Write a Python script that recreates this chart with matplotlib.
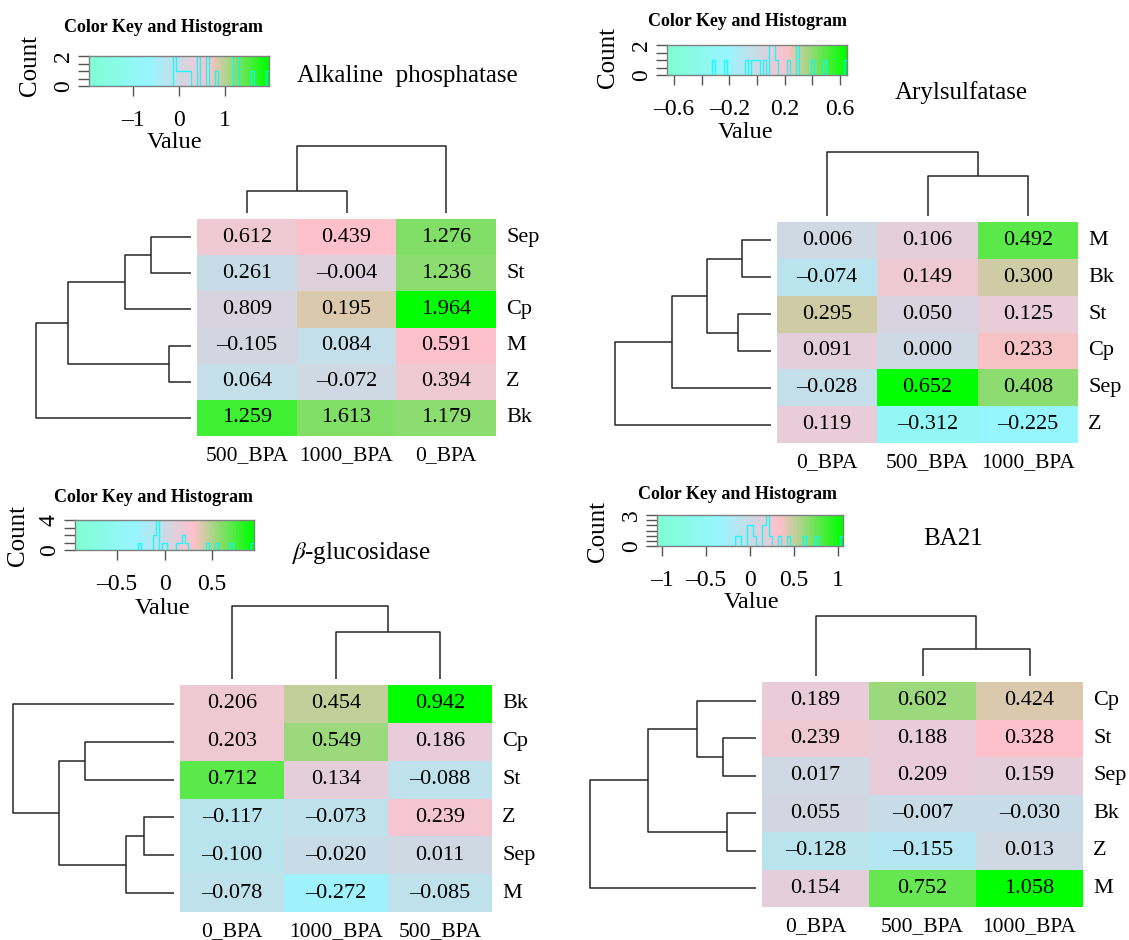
import numpy as np
import matplotlib
matplotlib.use("Agg")
import matplotlib.pyplot as plt
from matplotlib.colors import LinearSegmentedColormap, ListedColormap, BoundaryNorm

plt.rcParams['font.family'] = ['Liberation Serif', 'DejaVu Serif']
plt.rcParams['mathtext.fontset'] = 'stix'

# ---------------- data ----------------
n_colors = 60
ramp_colors = ["aquamarine", "#98F5FF", "pink", "#00FF00"]   # aquamarine, cadetblue1, pink, green

# Alkaline phosphatase
alk_rows = ["Sep", "St", "Cp", "M", "Z", "Bk"]
alk_cols = ["500_BPA", "1000_BPA", "0_BPA"]
alk_vals = np.array([[0.612, 0.439, 1.276],
                     [0.261, -0.004, 1.236],
                     [0.809, 0.195, 1.964],
                     [-0.105, 0.084, 0.591],
                     [0.064, -0.072, 0.394],
                     [1.259, 1.613, 1.179]])
alk_color_cols = [1, 0, 2]   # colours in the figure follow the 1000/500 columns swapped
alk_row_link = [(3, 4, 0.142), (0, 1, 0.258), (7, 2, 0.426), (8, 6, 0.794), (9, 5, 1.0)]
alk_col_link = [(0, 1, 0.328), (3, 2, 1.0)]

# Arylsulfatase
ary_rows = ["M", "Bk", "St", "Cp", "Sep", "Z"]
ary_cols = ["0_BPA", "500_BPA", "1000_BPA"]
ary_vals = np.array([[0.006, 0.106, 0.492],
                     [-0.074, 0.149, 0.300],
                     [0.295, 0.050, 0.125],
                     [0.091, 0.000, 0.233],
                     [-0.028, 0.652, 0.408],
                     [0.119, -0.312, -0.225]])
ary_row_link = [(0, 1, 0.185), (2, 3, 0.21), (6, 7, 0.408), (8, 4, 0.637), (9, 5, 1.0)]
ary_col_link = [(1, 2, 0.625), (0, 3, 1.0)]

# beta-glucosidase
glu_rows = ["Bk", "Cp", "St", "Z", "Sep", "M"]
glu_cols = ["0_BPA", "1000_BPA", "500_BPA"]
glu_vals = np.array([[0.206, 0.454, 0.942],
                     [0.203, 0.549, 0.186],
                     [0.712, 0.134, -0.088],
                     [-0.117, -0.073, 0.239],
                     [-0.100, -0.020, 0.011],
                     [-0.078, -0.272, -0.085]])
glu_row_link = [(3, 4, 0.186), (6, 5, 0.298), (1, 2, 0.553), (8, 7, 0.714), (0, 9, 1.0)]
glu_col_link = [(1, 2, 0.639), (0, 3, 1.0)]

# BA21
ba_rows = ["Cp", "St", "Sep", "Bk", "Z", "M"]
ba_cols = ["0_BPA", "500_BPA", "1000_BPA"]
ba_vals = np.array([[0.189, 0.602, 0.424],
                    [0.239, 0.188, 0.328],
                    [0.017, 0.209, 0.159],
                    [0.055, -0.007, -0.030],
                    [-0.128, -0.155, 0.013],
                    [0.154, 0.752, 1.058]])
ba_row_link = [(3, 4, 0.175), (1, 2, 0.199), (0, 7, 0.355), (8, 6, 0.651), (9, 5, 1.0)]
ba_col_link = [(1, 2, 0.45), (0, 3, 1.0)]

# ---------------- figure ----------------
W, H = 1129, 940
fig = plt.figure(figsize=(W / 100, H / 100), dpi=100)

ramp = LinearSegmentedColormap.from_list("key", ramp_colors)
cmap = ListedColormap(ramp(np.linspace(0, 1, n_colors)))
line_col = "#262626"


def px_axes(x0, y0, x1, y1):
    ax = fig.add_axes([x0 / W, 1 - y1 / H, (x1 - x0) / W, (y1 - y0) / H])
    return ax


def px_text(x, y, s, **kw):
    fig.text(x / W, 1 - y / H, s, **kw)


def fmt(v):
    return f"{v:.3f}".replace("-", "\u2013")


def r_hist(v, breaks):
    # R hist(): right-closed bins, lowest included
    idx = np.searchsorted(breaks, v, side="left") - 1
    idx = np.clip(idx, 0, len(breaks) - 2)
    return np.bincount(idx, minlength=len(breaks) - 1)


def dendro(ax, link, n, horizontal):
    pos = list(np.arange(n, dtype=float))
    hgt = [0.0] * n
    for a, b, h in link:
        xs = [pos[a], pos[a], pos[b], pos[b]]
        ys = [hgt[a], h, h, hgt[b]]
        if horizontal:
            ax.plot(ys, xs, color=line_col, lw=1.1, clip_on=False, solid_capstyle="butt")
        else:
            ax.plot(xs, ys, color=line_col, lw=1.1, clip_on=False, solid_capstyle="butt")
        pos.append((pos[a] + pos[b]) / 2)
        hgt.append(h)
    ax.axis("off")


panels = [
    dict(vals=alk_vals, cvals=alk_vals[:, alk_color_cols], rows=alk_rows, cols=alk_cols,
         rlink=alk_row_link, clink=alk_col_link, title="Alkaline  phosphatase",
         ticks=[-1, 0, 1], shown=[-1, 0, 1],
         key=(89, 56, 269, 86), heat=(197, 219, 496, 436), rx0=36, cy0=146,
         title_xy=(297, 76), ckh_xy=(163, 28), count_xy=(30, 66), value_xy=(175, 142)),
    dict(vals=ary_vals, cvals=ary_vals, rows=ary_rows, cols=ary_cols,
         rlink=ary_row_link, clink=ary_col_link, title="Arylsulfatase",
         ticks=[-0.6, -0.4, -0.2, 0, 0.2, 0.4, 0.6], shown=[-0.6, -0.2, 0.2, 0.6],
         key=(667, 45, 847, 75), heat=(777, 222, 1078, 443), rx0=615, cy0=152,
         title_xy=(895, 93), ckh_xy=(748, 22), count_xy=(608, 58), value_xy=(746, 132)),
    dict(vals=glu_vals, cvals=glu_vals, rows=glu_rows, cols=glu_cols,
         rlink=glu_row_link, clink=glu_col_link, title=r"$\beta$-glucosidase",
         ticks=[-0.5, 0, 0.5], shown=[-0.5, 0, 0.5],
         key=(75, 520, 254, 550), heat=(180, 685, 492, 912), rx0=13, cy0=606,
         title_xy=(291, 553), ckh_xy=(153, 497), count_xy=(18, 535), value_xy=(163, 608)),
    dict(vals=ba_vals, cvals=ba_vals, rows=ba_rows, cols=ba_cols,
         rlink=ba_row_link, clink=ba_col_link, title="BA21",
         ticks=[-1, -0.5, 0, 0.5, 1], shown=[-1, -0.5, 0, 0.5, 1],
         key=(657, 515, 843, 546), heat=(762, 682, 1083, 907), rx0=590, cy0=616,
         title_xy=(923, 539), ckh_xy=(738, 495), count_xy=(598, 532), value_xy=(752, 603)),
]

for p in panels:
    vals = p["vals"]
    nr, nc = vals.shape
    M = np.abs(vals).max()
    breaks = np.linspace(-M, M, n_colors + 1)
    norm = BoundaryNorm(breaks, n_colors)

    # heatmap
    hx0, hy0, hx1, hy1 = p["heat"]
    ax = px_axes(hx0, hy0, hx1, hy1)
    ax.pcolormesh(np.arange(nc + 1) - 0.5, np.arange(nr + 1) - 0.5, p["cvals"],
                  cmap=cmap, norm=norm, edgecolors="none")
    ax.set_xlim(-0.5, nc - 0.5)
    ax.set_ylim(nr - 0.5, -0.5)
    ax.axis("off")
    for i in range(nr):
        for j in range(nc):
            ax.text(j, i, fmt(vals[i, j]), ha="center", va="center", fontsize=16)
        ax.annotate(p["rows"][i], xy=(1, i), xycoords=("axes fraction", "data"),
                    xytext=(10, 0), textcoords="offset pixels", ha="left", va="center",
                    fontsize=16)
    for j in range(nc):
        ax.annotate(p["cols"][j], xy=(j, 0), xycoords=("data", "axes fraction"),
                    xytext=(0, -20), textcoords="offset pixels", ha="center", va="center",
                    fontsize=15.5)

    # row dendrogram
    axr = px_axes(p["rx0"], hy0, hx0 - 6, hy1)
    dendro(axr, p["rlink"], nr, horizontal=True)
    axr.set_xlim(1, 0)
    axr.set_ylim(nr - 0.5, -0.5)

    # column dendrogram
    axc = px_axes(hx0, p["cy0"], hx1, hy0 - 6)
    dendro(axc, p["clink"], nc, horizontal=False)
    axc.set_xlim(-0.5, nc - 0.5)
    axc.set_ylim(0, 1)

    # colour key with histogram
    kx0, ky0, kx1, ky1 = p["key"]
    axk = px_axes(kx0, ky0, kx1, ky1)
    mids = (breaks[:-1] + breaks[1:]) / 2
    axk.pcolormesh(breaks, [0, 1], mids[None, :], cmap=cmap, norm=norm, edgecolors="none")
    counts = r_hist(vals.ravel(), breaks)
    hy = np.append(counts, counts[-1])
    axk.step(breaks, hy / hy.max(), where="post", color="cyan", lw=1.0, alpha=0.85)
    axk.set_xlim(-M, M)
    axk.set_ylim(0, 1)
    axk.set_xticks(p["ticks"])
    axk.set_xticklabels([fmt(t).rstrip("0").rstrip(".") if t in p["shown"] else ""
                         for t in p["ticks"]])
    step = 0.5 if counts.max() <= 3 else 1.0
    cticks = np.arange(0, counts.max() + step / 2, step)
    axk.set_yticks(cticks / counts.max())
    axk.set_yticklabels([("%d" % c) if c in (0, counts.max()) else "" for c in cticks],
                        rotation=90, va="center")
    axk.tick_params(axis="x", length=7, width=1, color="#555555", labelsize=17, pad=10)
    axk.tick_params(axis="y", length=8, width=1, color="#555555", labelsize=17, pad=3)
    for s in axk.spines.values():
        s.set_color("#808080")
        s.set_linewidth(1)

    px_text(*p["ckh_xy"], "Color Key and Histogram", fontsize=13, fontweight="bold",
            ha="center", va="center")
    px_text(*p["count_xy"], "Count", fontsize=18, rotation=90, ha="center", va="center")
    px_text(*p["value_xy"], "Value", fontsize=17.5, ha="center", va="center")
    px_text(*p["title_xy"], p["title"], fontsize=18, ha="left", va="center")

fig.savefig("out.png", dpi=100)
